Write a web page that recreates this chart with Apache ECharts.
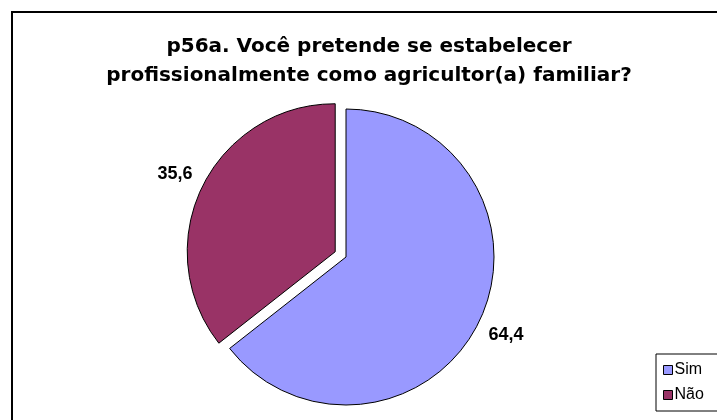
<!DOCTYPE html>
<html>
<head>
<meta charset="utf-8">
<script src="https://cdn.jsdelivr.net/npm/echarts@6/dist/echarts.min.js"></script>
<style>
html, body { margin: 0; padding: 0; background: #fff; }
#main { width: 717px; height: 420px; }
</style>
</head>
<body>
<div id="main"></div>
<script>
const categories = ["Sim", "Não"];
const values = [64.4, 35.6];
const colors = ["#9999FF", "#993366"];
const titleLines = [
    "p56a. Você pretende se estabelecer",
    "profissionalmente como agricultor(a) familiar?"
];

const chart = echarts.init(document.getElementById("main"));

const pieData = categories.map((name, i) => ({
    name: name,
    value: values[i],
    selected: name === "Não",
    itemStyle: { color: colors[i] }
}));

// transparent ring only used to place the value labels around the pie
const labelData = categories.map((name, i) => ({
    name: name,
    value: values[i],
    selected: name === "Não",
    itemStyle: { color: "rgba(0,0,0,0)", borderWidth: 0 }
}));

let option = {
    animation: false,
    title: {
        text: titleLines.join("\n"),
        left: 369,
        top: 32,
        padding: 0,
        textAlign: "center",
        textStyle: {
            fontFamily: "DejaVu Sans",
            fontWeight: "bold",
            fontSize: 20,
            lineHeight: 29,
            color: "#000"
        }
    },
    legend: {
        data: categories,
        orient: "vertical",
        left: 656,
        top: 354,
        padding: [8, 40, 8, 7],
        itemGap: 9,
        itemWidth: 9,
        itemHeight: 9,
        icon: "rect",
        borderColor: "#000",
        borderWidth: 1,
        itemStyle: { borderColor: "#000", borderWidth: 1 },
        textStyle: {
            fontFamily: "Liberation Sans",
            fontSize: 16,
            color: "#000",
            padding: [0, 0, 0, -3]
        }
    },
    graphic: [{
        type: "rect",
        shape: { x: 12, y: 12, width: 730, height: 430 },
        style: { fill: "none", stroke: "#000", lineWidth: 2 },
        silent: true
    }],
    series: [{
            name: "p56a",
            type: "pie",
            center: [346, 257],
            radius: 148,
            startAngle: 90,
            clockwise: true,
            selectedMode: "single",
            selectedOffset: 12,
            label: { show: false },
            labelLine: { show: false },
            itemStyle: { borderColor: "#000", borderWidth: 1 },
            select: { itemStyle: { borderColor: "#000", borderWidth: 1 } },
            emphasis: { disabled: true },
            data: pieData
        },
        {
            name: "rotulos",
            type: "pie",
            silent: true,
            center: [346, 257],
            radius: [171, 179],
            startAngle: 90,
            clockwise: true,
            selectedMode: "single",
            selectedOffset: 12,
            label: {
                show: true,
                position: "inside",
                rotate: 0,
                overflow: "none",
                fontFamily: "Liberation Sans",
                fontWeight: "bold",
                fontSize: 18,
                color: "#000",
                formatter: (p) => String(p.value).replace(".", ",")
            },
            labelLine: { show: false },
            emphasis: { disabled: true },
            data: labelData
        }
    ]
};
chart.setOption(option);
</script>
</body>
</html>
